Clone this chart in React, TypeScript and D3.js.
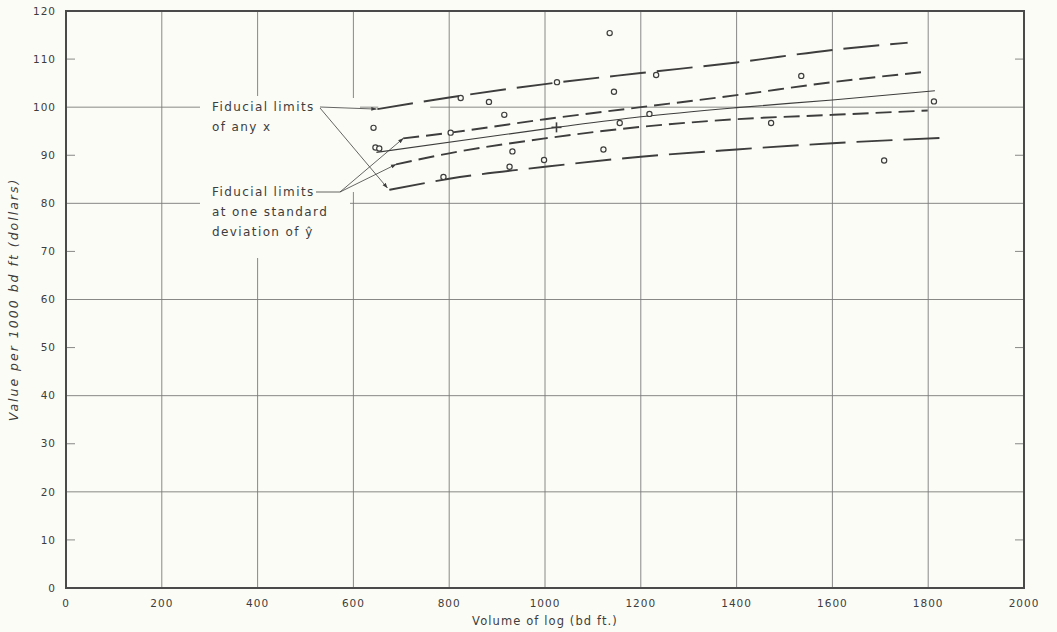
import React from 'react';
import * as d3 from 'd3';

// ---------- data ----------
const xTicks = [0, 200, 400, 600, 800, 1000, 1200, 1400, 1600, 1800, 2000];
const yTicks = [0, 10, 20, 30, 40, 50, 60, 70, 80, 90, 100, 110, 120];
const xGrid = [200, 400, 600, 800, 1000, 1200, 1400, 1600, 1800];
const yGrid = [20, 40, 60, 80, 100];
const yMinorTicks = [10, 30, 50, 70, 90, 110];

// observed logs
const obsX = [642, 646, 654, 788, 803, 824, 883, 915, 926, 932, 998, 1025, 1122, 1135, 1144, 1156, 1218, 1232, 1472, 1535, 1708, 1812];
const obsY = [95.7, 91.6, 91.4, 85.5, 94.7, 101.9, 101.1, 98.4, 87.6, 90.8, 89.0, 105.2, 91.2, 115.4, 103.2, 96.7, 98.6, 106.7, 96.7, 106.5, 88.9, 101.2];

// mean point (+)
const meanX = [1024];
const meanY = [95.8];

// regression line
const regX = [648, 1024, 1200, 1400, 1600, 1814];
const regY = [90.6, 95.8, 98.0, 99.9, 101.5, 103.4];

// fiducial limits at one standard deviation of y-hat
const innerUpX = [704, 803, 1000, 1200, 1400, 1600, 1799];
const innerUpY = [93.5, 94.7, 97.5, 100.0, 102.5, 105.2, 107.4];
const innerLoX = [689, 800, 1000, 1200, 1400, 1600, 1799];
const innerLoY = [88.1, 90.4, 93.5, 95.9, 97.5, 98.4, 99.3];

// fiducial limits of any x
const outerUpX = [650, 800, 1000, 1200, 1400, 1600, 1757];
const outerUpY = [99.6, 102.0, 104.8, 107.1, 109.3, 111.9, 113.4];
const outerLoX = [675, 800, 1000, 1200, 1400, 1600, 1828];
const outerLoY = [82.8, 85.1, 87.6, 89.7, 91.2, 92.5, 93.6];

const annoAny = ['Fiducial limits', 'of any x'];
const annoSd = ['Fiducial limits', 'at one standard', 'deviation of ŷ'];
const xTitle = 'Volume of log (bd ft.)';
const yTitle = 'Value per 1000 bd ft  (dollars)';

// ---------- layout ----------
const W = 1057;
const H = 632;
const L = 66, R = 1024, T = 11, B = 588;
const BG = '#fcfcf6';
const INK = '#3d3d3d';
const GRID = '#7a7a7a';
const FONT = '"DejaVu Sans", "Open Sans", sans-serif';

const x = d3.scaleLinear().domain([0, 2000]).range([L, R]);
const y = d3.scaleLinear().domain([0, 120]).range([B, T]);

const zip = (xs: number[], ys: number[]) => xs.map((v, i) => [v, ys[i]] as [number, number]);
const lineGen = d3
  .line<[number, number]>()
  .x((d) => x(d[0]))
  .y((d) => y(d[1]))
  .curve(d3.curveMonotoneX);

export default function App() {
  const reg = zip(regX, regY);
  const iu = zip(innerUpX, innerUpY);
  const il = zip(innerLoX, innerLoY);
  const ou = zip(outerUpX, outerUpY);
  const ol = zip(outerLoX, outerLoY);

  // annotation anchors (layout)
  const a1x = 212, a1y = 107;
  const a2x = 212, a2y = 192;
  const a1end = 320;
  const a2end = 316;
  const a2knee = 340;

  return (
    <svg
      width={W}
      height={H}
      style={{ position: 'absolute', left: 0, top: 0, background: BG }}
      fontFamily={FONT}
    >
      <defs>
        <marker id="arr" viewBox="0 0 10 10" refX="9" refY="5" markerWidth="7" markerHeight="7" orient="auto">
          <path d="M0,1.5 L10,5 L0,8.5 Z" fill={INK} />
        </marker>
      </defs>
      <rect x={0} y={0} width={W} height={H} fill={BG} />

      {/* grid */}
      <g stroke={GRID} strokeWidth={0.9}>
        {xGrid.map((v) => (
          <line key={'gx' + v} x1={x(v)} x2={x(v)} y1={T} y2={B} />
        ))}
        {yGrid.map((v) => (
          <line key={'gy' + v} x1={L} x2={R} y1={y(v)} y2={y(v)} />
        ))}
        {yMinorTicks.map((v) => (
          <g key={'mt' + v}>
            <line x1={L} x2={L + 9} y1={y(v)} y2={y(v)} />
            <line x1={R - 9} x2={R} y1={y(v)} y2={y(v)} />
          </g>
        ))}
      </g>

      {/* knock-outs behind the annotations */}
      <g fill={BG}>
        <rect x={200} y={96} width={150} height={162} />
        <rect x={346} y={98} width={14} height={94} />
        <rect x={x(650) + 1} y={y(100) - 3} width={x(800) - x(650) - 20} height={6} />
      </g>

      {/* frame */}
      <rect x={L} y={T} width={R - L} height={B - T} fill="none" stroke="#4a4a4a" strokeWidth={2} />

      {/* axis tick labels */}
      <g fill={INK} fontSize={10.5} letterSpacing={1}>
        {yTicks.map((v) => (
          <text key={'yl' + v} x={L - 10} y={y(v)} dy="0.35em" textAnchor="end">
            {v}
          </text>
        ))}
        {xTicks.map((v) => (
          <text key={'xl' + v} x={x(v)} y={B + 19} textAnchor="middle">
            {v}
          </text>
        ))}
      </g>

      {/* axis titles */}
      <text x={(L + R) / 2} y={B + 37} textAnchor="middle" fontSize={11.5} letterSpacing={1.1} fill={INK}>
        {xTitle}
      </text>
      <text
        transform={`translate(${18},${(T + B) / 2}) rotate(-90)`}
        textAnchor="middle"
        fontSize={12.5}
        fontStyle="italic"
        letterSpacing={2}
        fill={INK}
      >
        {yTitle}
      </text>

      {/* curves */}
      <g fill="none" stroke={INK}>
        <path d={lineGen(reg) || ''} strokeWidth={1.1} />
        <path d={lineGen(iu) || ''} strokeWidth={1.9} strokeDasharray="16 7" />
        <path d={lineGen(il) || ''} strokeWidth={1.9} strokeDasharray="16 7" />
        <path d={lineGen(ou) || ''} strokeWidth={1.9} strokeDasharray="36 11" />
        <path d={lineGen(ol) || ''} strokeWidth={1.9} strokeDasharray="36 11" />
      </g>

      {/* observations */}
      <g fill={BG} stroke={INK} strokeWidth={1.2}>
        {obsX.map((v, i) => (
          <circle key={'o' + i} cx={x(v)} cy={y(obsY[i])} r={2.6} />
        ))}
      </g>
      {/* mean */}
      <g stroke={INK} strokeWidth={1.6}>
        {meanX.map((v, i) => (
          <g key={'m' + i}>
            <line x1={x(v) - 5} x2={x(v) + 5} y1={y(meanY[i])} y2={y(meanY[i])} />
            <line x1={x(v)} x2={x(v)} y1={y(meanY[i]) - 5} y2={y(meanY[i]) + 5} />
          </g>
        ))}
      </g>

      {/* annotations */}
      <g fill={INK} fontSize={12} letterSpacing={1.4}>
        {annoAny.map((t, i) => (
          <text key={'a1' + i} x={a1x} y={a1y + i * 20} dy="0.35em">
            {t}
          </text>
        ))}
        {annoSd.map((t, i) => (
          <text key={'a2' + i} x={a2x} y={a2y + i * 20} dy="0.35em">
            {t}
          </text>
        ))}
      </g>
      <g stroke={INK} strokeWidth={0.8} fill="none">
        <line x1={a1end} y1={a1y} x2={x(ou[0][0]) - 1} y2={y(ou[0][1])} markerEnd="url(#arr)" />
        <line x1={a1end} y1={a1y + 1} x2={x(ol[0][0]) - 2} y2={y(ol[0][1]) - 2} markerEnd="url(#arr)" />
        <line x1={a2end} y1={a2y} x2={a2knee} y2={a2y} />
        <line x1={a2knee} y1={a2y} x2={x(iu[0][0])} y2={y(iu[0][1])} markerEnd="url(#arr)" />
        <line x1={a2knee} y1={a2y} x2={x(il[0][0])} y2={y(il[0][1])} markerEnd="url(#arr)" />
      </g>
    </svg>
  );
}
